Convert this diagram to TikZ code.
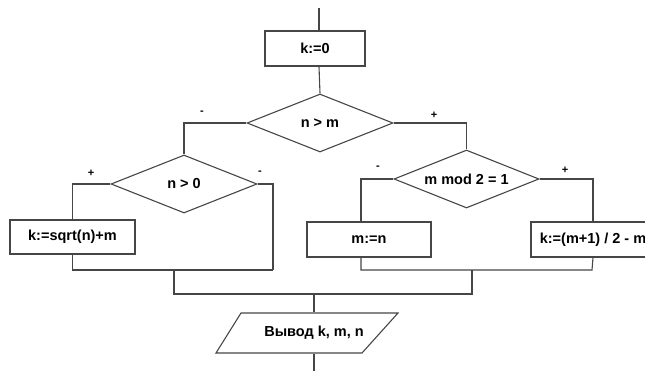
\documentclass[tikz,border=0pt]{standalone}
\usepackage{fontspec}
\setmainfont{Liberation Sans}
\usetikzlibrary{shapes.geometric}
\definecolor{ln}{RGB}{70,70,70}
\begin{document}
\begin{tikzpicture}[x=1pt,y=-1pt,
  line width=1.1pt, draw=ln,
  proc/.style={draw=ln, rectangle, inner sep=0pt, font=\fontsize{14.5}{16}\selectfont\bfseries},
  cond/.style={draw=ln, diamond, aspect=2.5, inner sep=0pt, minimum width=146pt, minimum height=58pt, font=\fontsize{14.5}{16}\selectfont\bfseries},
  sign/.style={inner sep=0pt, font=\fontsize{11}{12}\selectfont\bfseries},
  txt/.style={inner sep=0pt, font=\fontsize{14.5}{16}\selectfont\bfseries}]
\useasboundingbox (0,0) rectangle (645,371);
\clip (0,0) rectangle (645,371);
\coordinate (start) at (319,8);
\node[proc, minimum width=100pt, minimum height=35pt] (k0) at (315,48.5) {k:=0};
\node[cond] (d1) at (320,123) {n > m};
\node[cond] (d2) at (184,184) {n > 0};
\node[cond, minimum width=145pt] (d3) at (466.5,179) {m mod 2 = 1};
\node[proc, minimum width=125pt, minimum height=34pt] (b1) at (72.5,237) {k:=sqrt(n)+m};
\node[proc, minimum width=124pt, minimum height=35pt] (b2) at (369,239.5) {m:=n};
\node[proc, minimum width=124pt, minimum height=35pt] (b3) at (593,239.5) {k:=(m+1) / 2 - m};
\node[txt, minimum width=140pt, minimum height=40pt] (out) at (314,333) {Вывод k, m, n};
\draw (216,353) -- (241,313) -- (398,313) -- (362,353) -- cycle;

\coordinate (c2r) at (273,270);
\coordinate (m1) at (174,270);
\coordinate (j1) at (174,294);
\coordinate (b2t) at (361,222);
\coordinate (b2b) at (361,257);
\coordinate (r1) at (361,270);
\coordinate (r2) at (592,270);
\coordinate (m2) at (472,270);
\coordinate (j2) at (472,294);
\coordinate (jc) at (314,294);
\coordinate (end) at (314,371);

\draw (start) -- (start |- k0.north);
\draw (start |- k0.south) -- (d1.north);
\draw (d1.west) -| (d2.north);
\draw (d1.east) -| (d3.north);
\draw (d2.west) -| (b1.north);
\draw (d2.east) -| (c2r);
\draw (b1.south) |- (c2r);
\draw (d3.west) -| (b2t);
\draw (d3.east) -| (b3.north);
\draw (b2b) -- (r1) -- (r2) -- (b3.south);
\draw (m1) -- (j1) -- (j2) -- (m2);
\draw (jc) -- (out.north);
\draw (out.south) -- (end);

\node[sign] (s1) at (202,113) {-};
\node[sign] (s2) at (434,115) {+};
\node[sign] (s3) at (91,173) {+};
\node[sign] (s4) at (260,173) {-};
\node[sign] (s5) at (378,168) {-};
\node[sign] (s6) at (565,170) {+};
\end{tikzpicture}
\end{document}
